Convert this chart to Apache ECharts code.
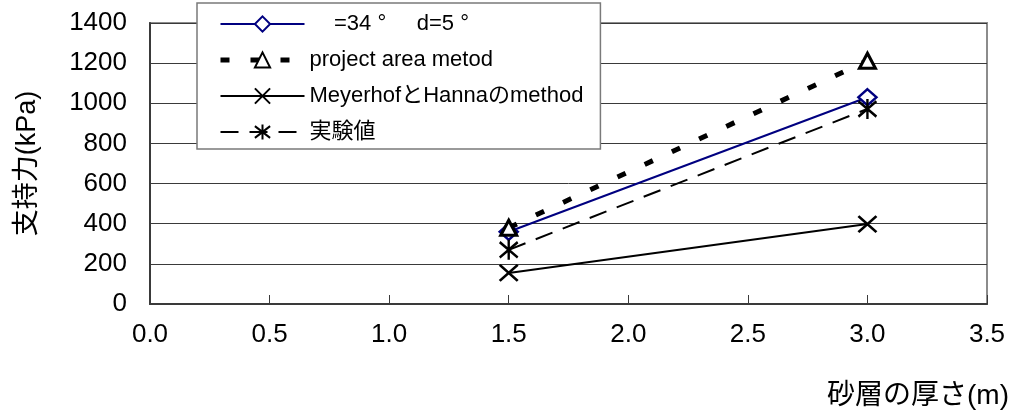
<!DOCTYPE html>
<html>
<head>
<meta charset="utf-8">
<script src="https://cdn.jsdelivr.net/npm/echarts@6/dist/echarts.min.js"></script>
<style>
  html, body { margin: 0; padding: 0; background: #fff; }
  #chart { width: 1013px; height: 412px; }
</style>
</head>
<body>
<div id="chart"></div>
<script>
// Sand layer thickness (m) vs bearing capacity (kPa)
const thickness = [1.5, 3.0];
const theoryValues = [360, 1030];      // =34 °  d=5 °
const projectAreaValues = [380, 1212]; // project area metod
const meyerhofValues = [155, 398];     // MeyerhofとHannaのmethod
const testValues = [270, 972];         // 実験値

const seriesNames = ['    =34 °     d=5 °', 'project area metod', 'MeyerhofとHannaのmethod', '実験値'];
const xTicks = { min: 0, max: 3.5, step: 0.5 };
const yTicks = { min: 0, max: 1400, step: 200 };

const FONT = '"Liberation Sans", Arial, "Noto Sans CJK JP", sans-serif';
const CROSS = 'path://M0,0L10,10M10,0L0,10';
const STAR = 'path://M0,0L10,10M10,0L0,10M5,-1.5L5,11.5';

const pairs = vals => thickness.map((x, i) => [x, vals[i]]);

const chart = echarts.init(document.getElementById('chart'), null, { renderer: 'canvas' });

chart.setOption({
  animation: false,
  backgroundColor: '#fff',
  textStyle: { fontFamily: FONT },
  grid: {
    left: 150, right: 26, top: 23, bottom: 108,
    show: true, borderColor: '#8c8c8c', borderWidth: 2, backgroundColor: 'transparent'
  },
  legend: {
    left: 197, top: 3,
    orient: 'vertical',
    backgroundColor: '#fff',
    borderColor: '#7a7a7a', borderWidth: 1.5,
    padding: [9, 17, 5, 21],
    itemWidth: 84, itemHeight: 19, itemGap: 12,
    lineStyle: { width: 'inherit' },
    textStyle: { fontSize: 22, color: '#000', lineHeight: 24, fontFamily: FONT },
    data: seriesNames
  },
  xAxis: {
    type: 'value',
    min: xTicks.min, max: xTicks.max, interval: xTicks.step,
    axisLine: { show: true, onZero: false, lineStyle: { color: '#3a3a3a', width: 2 } },
    axisTick: { show: true, inside: true, length: 9, lineStyle: { color: '#3a3a3a', width: 1 } },
    splitLine: { show: false },
    axisLabel: {
      fontSize: 26, color: '#000', margin: 18, fontFamily: FONT,
      formatter: v => v.toFixed(1)
    }
  },
  yAxis: {
    type: 'value',
    min: yTicks.min, max: yTicks.max, interval: yTicks.step,
    name: '支持力(kPa)',
    nameLocation: 'middle',
    nameGap: 109,
    nameRotate: 90,
    nameTextStyle: { fontSize: 27, color: '#000', fontFamily: FONT },
    axisLine: { show: true, lineStyle: { color: '#3a3a3a', width: 2 } },
    axisTick: { show: false },
    splitLine: { show: true, lineStyle: { color: '#3a3a3a', width: 1 } },
    axisLabel: { fontSize: 26, color: '#000', margin: 23, fontFamily: FONT, formatter: v => String(v) }
  },
  graphic: [{
    type: 'text',
    right: 4, top: 382,
    style: { text: '砂層の厚さ(m)', fontSize: 28, fill: '#000', fontFamily: FONT }
  }],
  series: [
    {
      name: seriesNames[0], type: 'line', data: pairs(theoryValues),
      symbol: 'diamond', symbolSize: [18, 16],
      lineStyle: { color: '#000080', width: 2 },
      itemStyle: { color: '#fff', borderColor: '#000080', borderWidth: 2.5 }
    },
    {
      name: seriesNames[1], type: 'line', data: pairs(projectAreaValues),
      symbol: 'triangle', symbolSize: [16, 15],
      lineStyle: { color: '#000', width: 5, type: [9, 21] },
      itemStyle: { color: '#fff', borderColor: '#000', borderWidth: 3 }
    },
    {
      name: seriesNames[2], type: 'line', data: pairs(meyerhofValues),
      symbol: CROSS, symbolSize: [18, 16], symbolKeepAspect: false,
      lineStyle: { color: '#000', width: 2 },
      itemStyle: { color: '#000', borderColor: '#000', borderWidth: 2.5 }
    },
    {
      name: seriesNames[3], type: 'line', data: pairs(testValues),
      symbol: STAR, symbolSize: [18, 20], symbolKeepAspect: false,
      lineStyle: { color: '#000', width: 2, type: [18, 11] },
      itemStyle: { color: '#000', borderColor: '#000', borderWidth: 2.5 }
    }
  ]
});
</script>
</body>
</html>
